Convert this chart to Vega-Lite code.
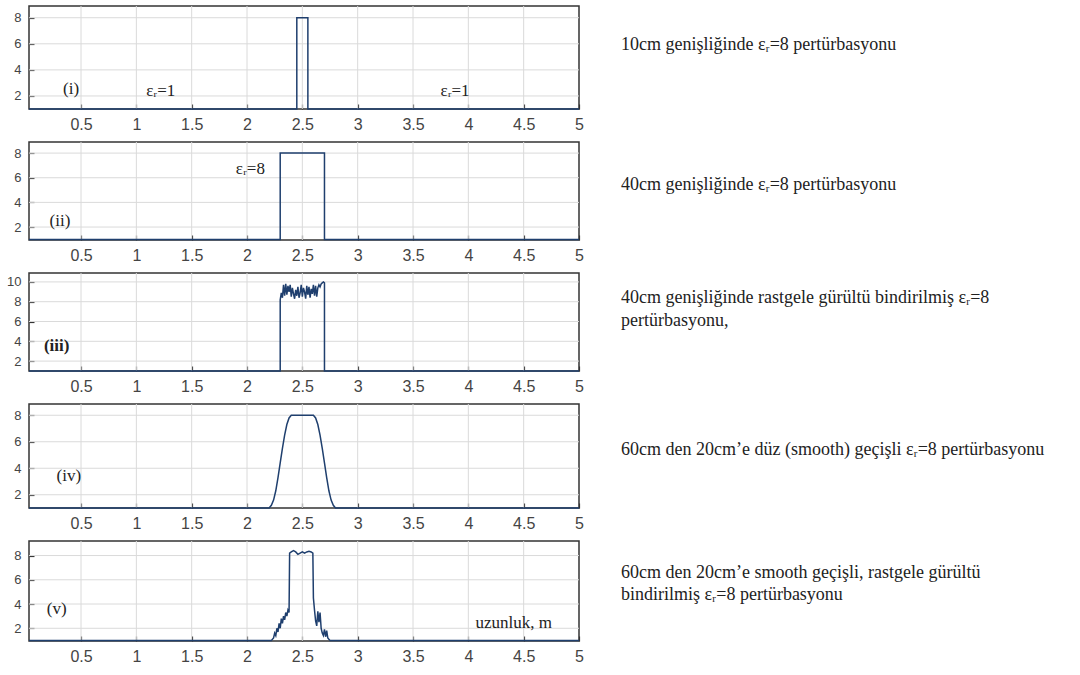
{
  "$schema": "https://vega.github.io/schema/vega-lite/v6.json",
  "background": "white",
  "padding": {"left": 5, "top": 4, "right": 5, "bottom": 5},
  "spacing": 33,
  "bounds": "flush",
  "config": {
    "view": {"stroke": "#333333", "strokeWidth": 1.5},
    "axis": {"grid": false, "domain": false, "ticks": true, "tickSize": -5, "tickColor": "#333333", "tickWidth": 1.2, "labelColor": "#444444", "labelFont": "Liberation Sans", "title": null, "labelFlush": false, "labelOverlap": false, "labelBound": false},
    "axisX": {"labelFontSize": 16, "labelPadding": 12},
    "axisY": {"labelFontSize": 13, "labelPadding": 13},
    "line": {"color": "#1f3f6e", "strokeWidth": 1.5},
    "rule": {"color": "#dadada", "strokeWidth": 1},
    "text": {"font": "Liberation Serif", "color": "#222222"}
  },
  "datasets": {
    "gx": [{"g": 0.5}, {"g": 1}, {"g": 1.5}, {"g": 2}, {"g": 2.5}, {"g": 3}, {"g": 3.5}, {"g": 4}, {"g": 4.5}],
    "gy8": [{"g": 2}, {"g": 4}, {"g": 6}, {"g": 8}],
    "gy10": [{"g": 2}, {"g": 4}, {"g": 6}, {"g": 8}, {"g": 10}],
    "p1": [
      {"x": 0.03, "y": 1}, {"x": 2.45, "y": 1}, {"x": 2.45, "y": 8}, {"x": 2.55, "y": 8}, {"x": 2.55, "y": 1}, {"x": 5, "y": 1}
    ],
    "p2": [
      {"x": 0.03, "y": 1}, {"x": 2.3, "y": 1}, {"x": 2.3, "y": 8}, {"x": 2.7, "y": 8}, {"x": 2.7, "y": 1}, {"x": 5, "y": 1}
    ],
    "p3": [
      {"x": 0.03, "y": 1}, {"x": 2.3, "y": 1}, {"x": 2.3, "y": 8.2}, {"x": 2.31, "y": 8.9}, {"x": 2.32, "y": 8.4}, {"x": 2.33, "y": 9.7}, {"x": 2.34, "y": 8.6}, {"x": 2.35, "y": 9.8}, {"x": 2.36, "y": 8.7}, {"x": 2.37, "y": 9.6}, {"x": 2.38, "y": 9.0}, {"x": 2.39, "y": 9.7}, {"x": 2.4, "y": 8.5}, {"x": 2.41, "y": 9.4}, {"x": 2.42, "y": 8.8}, {"x": 2.43, "y": 8.3}, {"x": 2.44, "y": 9.2}, {"x": 2.45, "y": 8.6}, {"x": 2.46, "y": 9.5}, {"x": 2.47, "y": 8.4}, {"x": 2.48, "y": 8.9}, {"x": 2.49, "y": 9.7}, {"x": 2.5, "y": 8.5}, {"x": 2.51, "y": 9.4}, {"x": 2.52, "y": 9.0}, {"x": 2.53, "y": 8.3}, {"x": 2.54, "y": 9.6}, {"x": 2.55, "y": 8.7}, {"x": 2.56, "y": 9.5}, {"x": 2.57, "y": 8.4}, {"x": 2.58, "y": 9.3}, {"x": 2.59, "y": 8.8}, {"x": 2.6, "y": 9.7}, {"x": 2.61, "y": 8.6}, {"x": 2.62, "y": 9.6}, {"x": 2.63, "y": 8.5}, {"x": 2.64, "y": 9.4}, {"x": 2.65, "y": 9.7}, {"x": 2.66, "y": 9.5}, {"x": 2.67, "y": 9.8}, {"x": 2.68, "y": 9.9}, {"x": 2.69, "y": 10.0}, {"x": 2.7, "y": 9.9}, {"x": 2.7, "y": 1}, {"x": 5, "y": 1}
    ],
    "p4": [
      {"x": 0.03, "y": 1}, {"x": 2.2, "y": 1}, {"x": 2.22, "y": 1.2}, {"x": 2.24, "y": 1.6}, {"x": 2.26, "y": 2.3}, {"x": 2.28, "y": 3.3}, {"x": 2.3, "y": 4.4}, {"x": 2.32, "y": 5.5}, {"x": 2.34, "y": 6.5}, {"x": 2.36, "y": 7.3}, {"x": 2.38, "y": 7.8}, {"x": 2.4, "y": 8.0}, {"x": 2.6, "y": 8.0}, {"x": 2.62, "y": 7.8}, {"x": 2.64, "y": 7.3}, {"x": 2.66, "y": 6.5}, {"x": 2.68, "y": 5.5}, {"x": 2.7, "y": 4.4}, {"x": 2.72, "y": 3.3}, {"x": 2.74, "y": 2.3}, {"x": 2.76, "y": 1.6}, {"x": 2.78, "y": 1.2}, {"x": 2.8, "y": 1}, {"x": 5, "y": 1}
    ],
    "p5": [
      {"x": 0.03, "y": 1}, {"x": 2.22, "y": 1}, {"x": 2.24, "y": 1.2}, {"x": 2.25, "y": 1.6}, {"x": 2.26, "y": 1.4}, {"x": 2.27, "y": 2.0}, {"x": 2.28, "y": 1.7}, {"x": 2.29, "y": 2.4}, {"x": 2.3, "y": 2.0}, {"x": 2.31, "y": 2.8}, {"x": 2.32, "y": 2.4}, {"x": 2.33, "y": 3.0}, {"x": 2.34, "y": 2.7}, {"x": 2.35, "y": 3.3}, {"x": 2.36, "y": 3.0}, {"x": 2.37, "y": 3.5}, {"x": 2.38, "y": 3.3}, {"x": 2.385, "y": 8.2}, {"x": 2.4, "y": 8.3}, {"x": 2.42, "y": 8.4}, {"x": 2.44, "y": 8.3}, {"x": 2.46, "y": 8.1}, {"x": 2.48, "y": 8.2}, {"x": 2.5, "y": 8.3}, {"x": 2.52, "y": 8.2}, {"x": 2.54, "y": 8.3}, {"x": 2.56, "y": 8.35}, {"x": 2.58, "y": 8.3}, {"x": 2.595, "y": 8.2}, {"x": 2.6, "y": 4.5}, {"x": 2.61, "y": 3.5}, {"x": 2.62, "y": 2.6}, {"x": 2.63, "y": 2.2}, {"x": 2.64, "y": 3.4}, {"x": 2.65, "y": 2.5}, {"x": 2.66, "y": 3.3}, {"x": 2.67, "y": 2.0}, {"x": 2.68, "y": 1.6}, {"x": 2.69, "y": 1.4}, {"x": 2.7, "y": 1.9}, {"x": 2.71, "y": 1.3}, {"x": 2.72, "y": 1.8}, {"x": 2.73, "y": 1.2}, {"x": 2.74, "y": 1.1}, {"x": 2.75, "y": 1}, {"x": 5, "y": 1}
    ]
  },
  "vconcat": [
    {
      "width": 550, "height": 103,
      "resolve": {"axis": {"x": "independent", "y": "independent"}},
      "layer": [
        {"data": {"name": "gx"}, "mark": {"type": "rule"}, "encoding": {"x": {"field": "g", "type": "quantitative", "axis": null}}},
        {"data": {"name": "gy8"}, "mark": {"type": "rule"}, "encoding": {"y": {"field": "g", "type": "quantitative", "axis": null}}},
        {
          "data": {"name": "p1"},
          "mark": {"type": "line"},
          "encoding": {
            "x": {"field": "x", "type": "quantitative", "scale": {"domain": [0.03, 5], "nice": false, "zero": false}, "axis": {"values": [0.5, 1, 1.5, 2, 2.5, 3, 3.5, 4, 4.5, 5], "format": "~r"}},
            "y": {"field": "y", "type": "quantitative", "scale": {"domain": [1, 8.9], "nice": false, "zero": false}, "axis": {"values": [2, 4, 6, 8], "format": "~r"}},
            "order": {"value": null}
          }
        },
        {"data": {"values": [{}]}, "mark": {"type": "text", "fontSize": 17, "align": "center", "baseline": "middle"}, "encoding": {"x": {"datum": 0.41, "axis": null}, "y": {"datum": 2.5, "axis": null}, "text": {"value": "(i)"}}},
        {"data": {"values": [{}]}, "mark": {"type": "text", "fontSize": 17, "align": "center", "baseline": "middle"}, "encoding": {"x": {"datum": 1.22, "axis": null}, "y": {"datum": 2.4, "axis": null}, "text": {"value": "εᵣ=1"}}},
        {"data": {"values": [{}]}, "mark": {"type": "text", "fontSize": 17, "align": "center", "baseline": "middle"}, "encoding": {"x": {"datum": 3.88, "axis": null}, "y": {"datum": 2.4, "axis": null}, "text": {"value": "εᵣ=1"}}},
        {"data": {"values": [{}]}, "mark": {"type": "text", "fontSize": 18, "align": "left", "baseline": "middle"}, "encoding": {"x": {"datum": 5.38, "axis": null}, "y": {"datum": 5.9, "axis": null}, "text": {"value": "10cm genişliğinde εᵣ=8 pertürbasyonu"}}}
      ]
    },
    {
      "width": 550, "height": 98,
      "resolve": {"axis": {"x": "independent", "y": "independent"}},
      "layer": [
        {"data": {"name": "gx"}, "mark": {"type": "rule"}, "encoding": {"x": {"field": "g", "type": "quantitative", "axis": null}}},
        {"data": {"name": "gy8"}, "mark": {"type": "rule"}, "encoding": {"y": {"field": "g", "type": "quantitative", "axis": null}}},
        {
          "data": {"name": "p2"},
          "mark": {"type": "line"},
          "encoding": {
            "x": {"field": "x", "type": "quantitative", "scale": {"domain": [0.03, 5], "nice": false, "zero": false}, "axis": {"values": [0.5, 1, 1.5, 2, 2.5, 3, 3.5, 4, 4.5, 5], "format": "~r"}},
            "y": {"field": "y", "type": "quantitative", "scale": {"domain": [0.95, 8.9], "nice": false, "zero": false}, "axis": {"values": [2, 4, 6, 8], "format": "~r"}},
            "order": {"value": null}
          }
        },
        {"data": {"values": [{}]}, "mark": {"type": "text", "fontSize": 17, "align": "center", "baseline": "middle"}, "encoding": {"x": {"datum": 0.31, "axis": null}, "y": {"datum": 2.5, "axis": null}, "text": {"value": "(ii)"}}},
        {"data": {"values": [{}]}, "mark": {"type": "text", "fontSize": 17, "align": "center", "baseline": "middle"}, "encoding": {"x": {"datum": 2.03, "axis": null}, "y": {"datum": 6.7, "axis": null}, "text": {"value": "εᵣ=8"}}},
        {"data": {"values": [{}]}, "mark": {"type": "text", "fontSize": 18, "align": "left", "baseline": "middle"}, "encoding": {"x": {"datum": 5.38, "axis": null}, "y": {"datum": 5.4, "axis": null}, "text": {"value": "40cm genişliğinde εᵣ=8 pertürbasyonu"}}}
      ]
    },
    {
      "width": 550, "height": 98,
      "resolve": {"axis": {"x": "independent", "y": "independent"}},
      "layer": [
        {"data": {"name": "gx"}, "mark": {"type": "rule"}, "encoding": {"x": {"field": "g", "type": "quantitative", "axis": null}}},
        {"data": {"name": "gy10"}, "mark": {"type": "rule"}, "encoding": {"y": {"field": "g", "type": "quantitative", "axis": null}}},
        {
          "data": {"name": "p3"},
          "mark": {"type": "line"},
          "encoding": {
            "x": {"field": "x", "type": "quantitative", "scale": {"domain": [0.03, 5], "nice": false, "zero": false}, "axis": {"values": [0.5, 1, 1.5, 2, 2.5, 3, 3.5, 4, 4.5, 5], "format": "~r"}},
            "y": {"field": "y", "type": "quantitative", "scale": {"domain": [1, 10.9], "nice": false, "zero": false}, "axis": {"values": [2, 4, 6, 8, 10], "format": "~r"}},
            "order": {"value": null}
          }
        },
        {"data": {"values": [{}]}, "mark": {"type": "text", "fontSize": 17, "align": "center", "baseline": "middle", "fontWeight": "bold"}, "encoding": {"x": {"datum": 0.28, "axis": null}, "y": {"datum": 3.5, "axis": null}, "text": {"value": "(iii)"}}},
        {"data": {"values": [{}]}, "mark": {"type": "text", "fontSize": 18, "align": "left", "baseline": "top", "lineHeight": 23, "lineBreak": "\n"}, "encoding": {"x": {"datum": 5.38, "axis": null}, "y": {"datum": 9.3, "axis": null}, "text": {"value": "40cm genişliğinde rastgele gürültü bindirilmiş εᵣ=8\npertürbasyonu,"}}}
      ]
    },
    {
      "width": 550, "height": 104,
      "resolve": {"axis": {"x": "independent", "y": "independent"}},
      "layer": [
        {"data": {"name": "gx"}, "mark": {"type": "rule"}, "encoding": {"x": {"field": "g", "type": "quantitative", "axis": null}}},
        {"data": {"name": "gy8"}, "mark": {"type": "rule"}, "encoding": {"y": {"field": "g", "type": "quantitative", "axis": null}}},
        {
          "data": {"name": "p4"},
          "mark": {"type": "line"},
          "encoding": {
            "x": {"field": "x", "type": "quantitative", "scale": {"domain": [0.03, 5], "nice": false, "zero": false}, "axis": {"values": [0.5, 1, 1.5, 2, 2.5, 3, 3.5, 4, 4.5, 5], "format": "~r"}},
            "y": {"field": "y", "type": "quantitative", "scale": {"domain": [1, 8.85], "nice": false, "zero": false}, "axis": {"values": [2, 4, 6, 8], "format": "~r"}},
            "order": {"value": null}
          }
        },
        {"data": {"values": [{}]}, "mark": {"type": "text", "fontSize": 17, "align": "center", "baseline": "middle"}, "encoding": {"x": {"datum": 0.39, "axis": null}, "y": {"datum": 3.4, "axis": null}, "text": {"value": "(iv)"}}},
        {"data": {"values": [{}]}, "mark": {"type": "text", "fontSize": 18, "align": "left", "baseline": "middle"}, "encoding": {"x": {"datum": 5.38, "axis": null}, "y": {"datum": 5.4, "axis": null}, "text": {"value": "60cm den 20cm’e düz (smooth) geçişli εᵣ=8 pertürbasyonu"}}}
      ]
    },
    {
      "width": 550, "height": 100,
      "resolve": {"axis": {"x": "independent", "y": "independent"}},
      "layer": [
        {"data": {"name": "gx"}, "mark": {"type": "rule"}, "encoding": {"x": {"field": "g", "type": "quantitative", "axis": null}}},
        {"data": {"name": "gy8"}, "mark": {"type": "rule"}, "encoding": {"y": {"field": "g", "type": "quantitative", "axis": null}}},
        {
          "data": {"name": "p5"},
          "mark": {"type": "line"},
          "encoding": {
            "x": {"field": "x", "type": "quantitative", "scale": {"domain": [0.03, 5], "nice": false, "zero": false}, "axis": {"values": [0.5, 1, 1.5, 2, 2.5, 3, 3.5, 4, 4.5, 5], "format": "~r"}},
            "y": {"field": "y", "type": "quantitative", "scale": {"domain": [0.95, 9.2], "nice": false, "zero": false}, "axis": {"values": [2, 4, 6, 8], "format": "~r"}},
            "order": {"value": null}
          }
        },
        {"data": {"values": [{}]}, "mark": {"type": "text", "fontSize": 17, "align": "center", "baseline": "middle"}, "encoding": {"x": {"datum": 0.28, "axis": null}, "y": {"datum": 3.6, "axis": null}, "text": {"value": "(v)"}}},
        {"data": {"values": [{}]}, "mark": {"type": "text", "fontSize": 17, "align": "center", "baseline": "middle"}, "encoding": {"x": {"datum": 4.41, "axis": null}, "y": {"datum": 2.4, "axis": null}, "text": {"value": "uzunluk, m"}}},
        {"data": {"values": [{}]}, "mark": {"type": "text", "fontSize": 18, "align": "left", "baseline": "top", "lineHeight": 22, "lineBreak": "\n"}, "encoding": {"x": {"datum": 5.38, "axis": null}, "y": {"datum": 7.3, "axis": null}, "text": {"value": "60cm den 20cm’e smooth geçişli, rastgele gürültü\nbindirilmiş εᵣ=8 pertürbasyonu"}}}
      ]
    }
  ]
}
